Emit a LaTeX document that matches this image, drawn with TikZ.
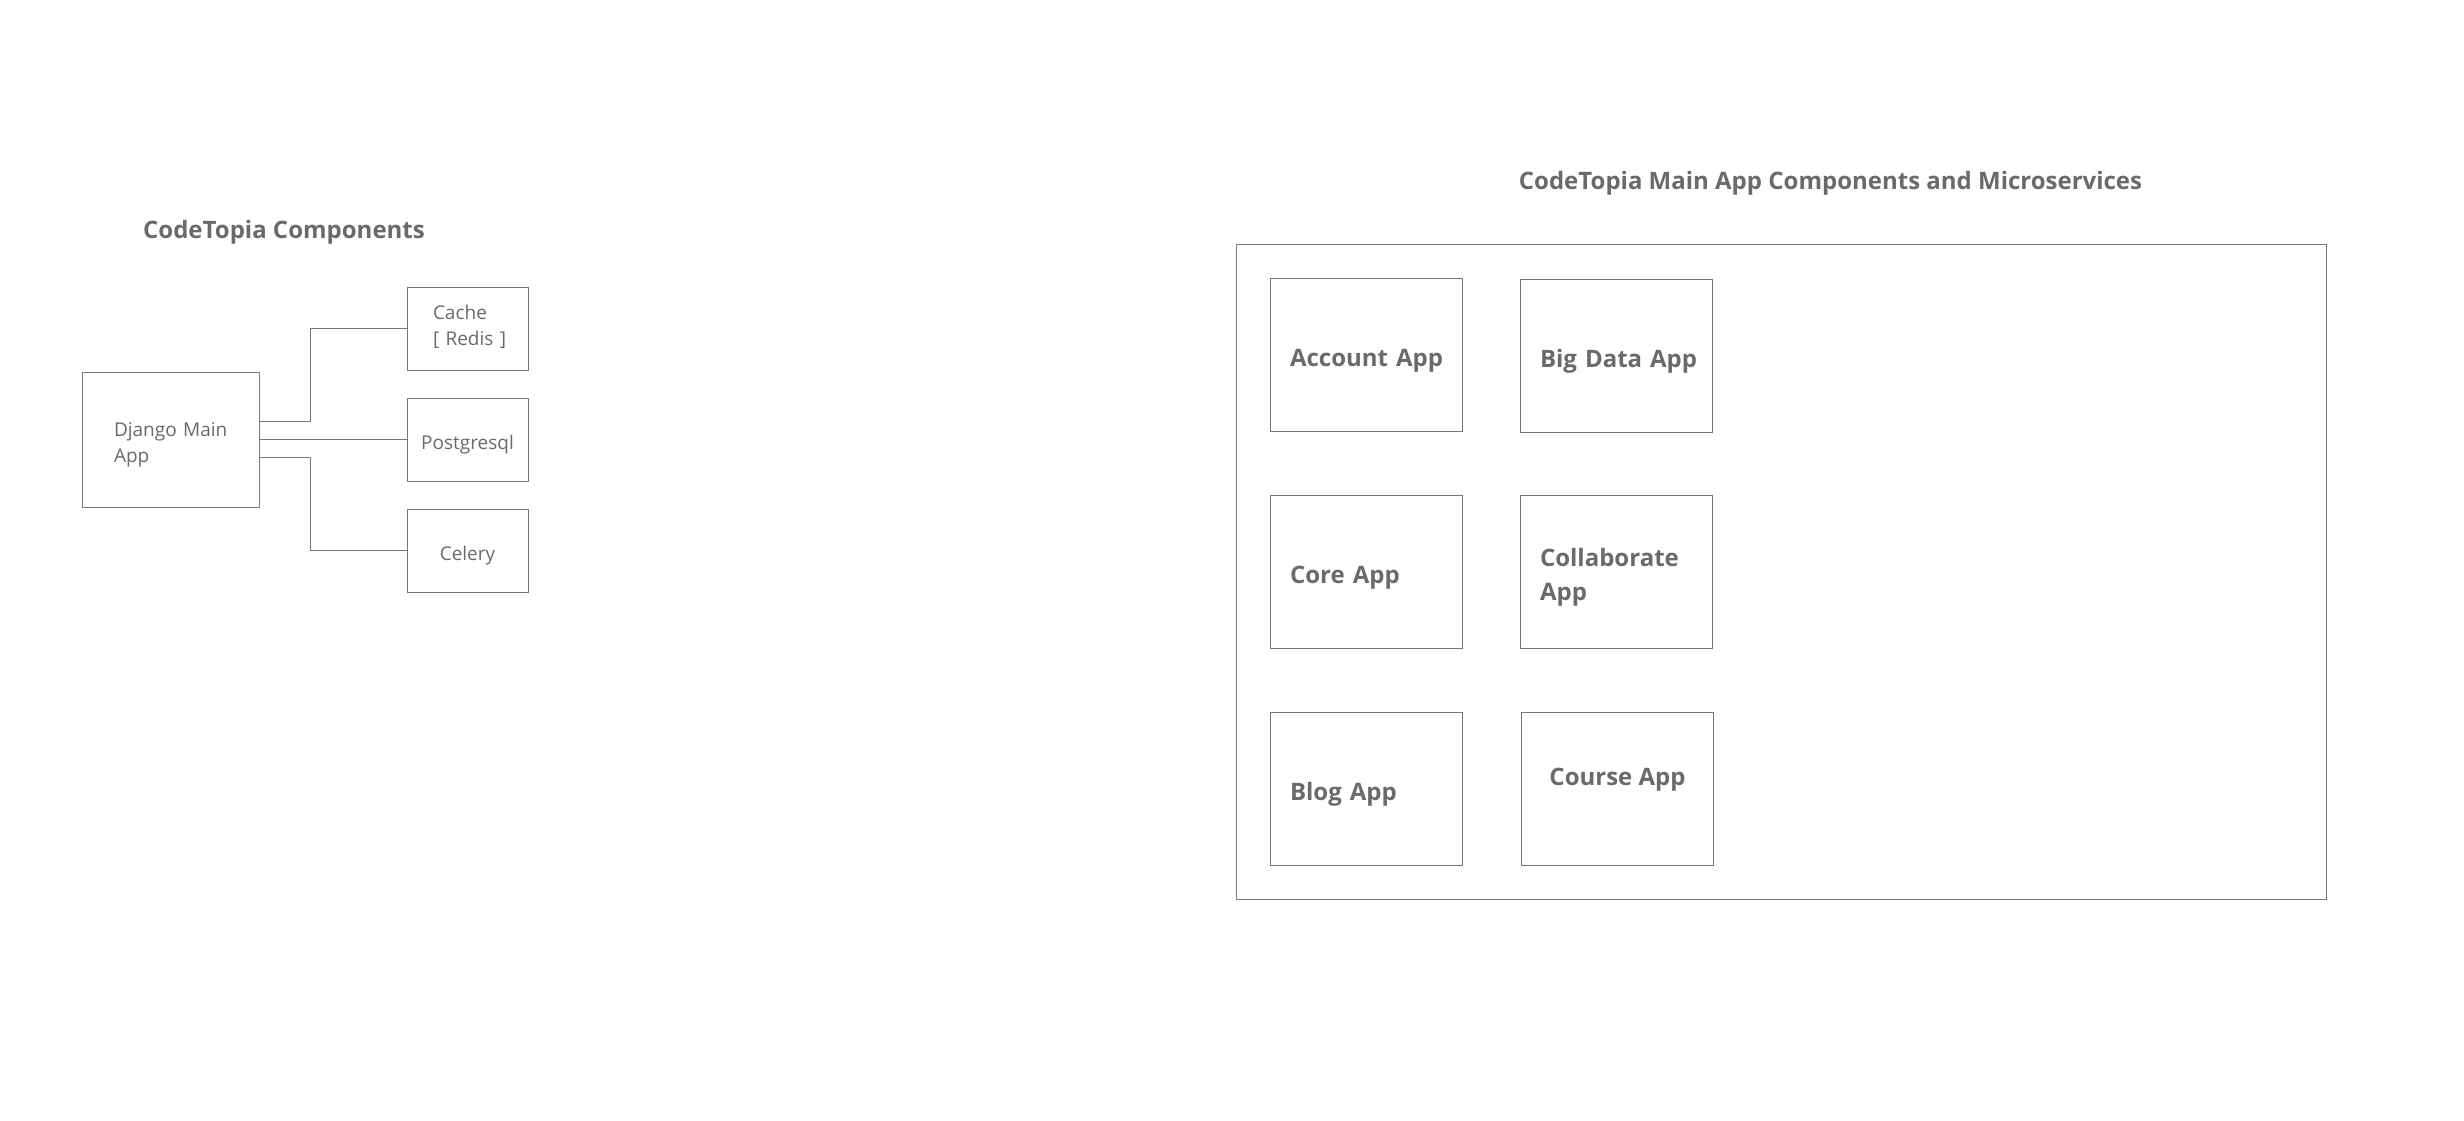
\documentclass[tikz,border=0pt]{standalone}
\usepackage{fontspec}
\setmainfont{Open Sans}
\usetikzlibrary{positioning}
\definecolor{inkgray}{HTML}{6A6A6A}
\definecolor{linegray}{HTML}{777777}
\newcommand{\lowstrut}{\rule{0pt}{\dimexpr 0.76em + 11pt\relax}}
\begin{document}
\begin{tikzpicture}[x = 1pt, y = -1pt,
		box/.style = {draw = linegray, line width = 1pt, inner sep = 0pt, text = inkgray, font = \fontsize{19}{26}\selectfont, execute at begin node = \lowstrut},
		compbox/.style = {box, minimum width = 121pt, minimum height = 83pt},
		appbox/.style = {box, minimum width = 192pt, minimum height = 153pt, text width = 152pt, align = left, font = \fontsize{24}{34}\selectfont\bfseries},
		heading/.style = {text = inkgray, font = \fontsize{24}{30}\selectfont\bfseries},
		link/.style = {draw = linegray, line width = 1pt}]
	\useasboundingbox (0, 0) rectangle (2464, 1120);
	% left part: main app and its services
	\node[heading] (lefttitle) at (284, 232) {CodeTopia Components};
	\node[box, minimum width = 177pt, minimum height = 135pt, text width = 113pt, align = left] (django) at (170.5, 439.5) {Django~Main\\App};
	\node[compbox, text width = 69pt, align = left, execute at begin node = {}, execute at end node = {\rule[-17pt]{0pt}{17pt}}] (cache) at (467.5, 328.5) {Cache\\\mbox{[ Redis ]}};
	\node[compbox] (postgres) at (467.5, 439.5) {Postgresql};
	\node[compbox] (celery) at (467.5, 550.5) {Celery};
	\draw[link] ([yshift = 18pt]django.east) -- ++(51, 0) |- (cache.west);
	\draw[link] (django.east) -- (postgres.west);
	\draw[link] ([yshift = -18pt]django.east) -- ++(51, 0) |- (celery.west);
	% right part: apps and microservices
	\node[heading] (righttitle) at (1830.5, 183) {CodeTopia Main App Components and Microservices};
	\node[box, minimum width = 1090pt, minimum height = 655pt, execute at begin node = {}] (mainapp) at (1781, 571.5) {};
	\foreach \n/\x/\y/\t in {account/1366/354.5/Account~App, bigdata/1616/355.5/Big~Data~App, core/1366/572/Core~App, collab/1616/572/{Collaborate\\App}, blog/1366/788.5/Blog~App}
		\node[appbox] (\n) at (\x, \y) {\t};
	\node[appbox, text width = {}, execute at begin node = {}] (course) at (1617.5, 788.5) {};
	\node[text = inkgray, font = \fontsize{24}{34}\selectfont\bfseries] (coursetext) at ([yshift = 9pt]course.center) {Course App};
\end{tikzpicture}
\end{document}
